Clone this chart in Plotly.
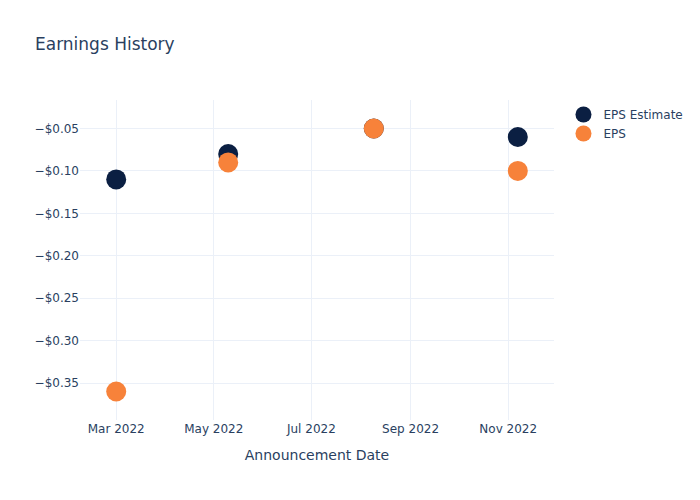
import plotly.graph_objects as go

dates = ["2022-03-01", "2022-05-10", "2022-08-09", "2022-11-07"]
eps_estimate = [-0.11, -0.08, -0.05, -0.06]
eps_actual = [-0.36, -0.09, -0.05, -0.10]

fig = go.Figure()
fig.add_trace(go.Scatter(x=dates, y=eps_estimate, mode="markers", name="EPS Estimate",
                         marker=dict(size=20, color="#0b1f42")))
fig.add_trace(go.Scatter(x=dates, y=eps_actual, mode="markers", name="EPS",
                         marker=dict(size=20, color="#f7823a")))
fig.update_layout(
    template="plotly_white",
    width=700, height=500,
    font=dict(family="DejaVu Sans"),
    title="Earnings History",
    xaxis_title="Announcement Date",
    yaxis=dict(tickformat="$.2f"),
)
fig.write_html("out.html")
